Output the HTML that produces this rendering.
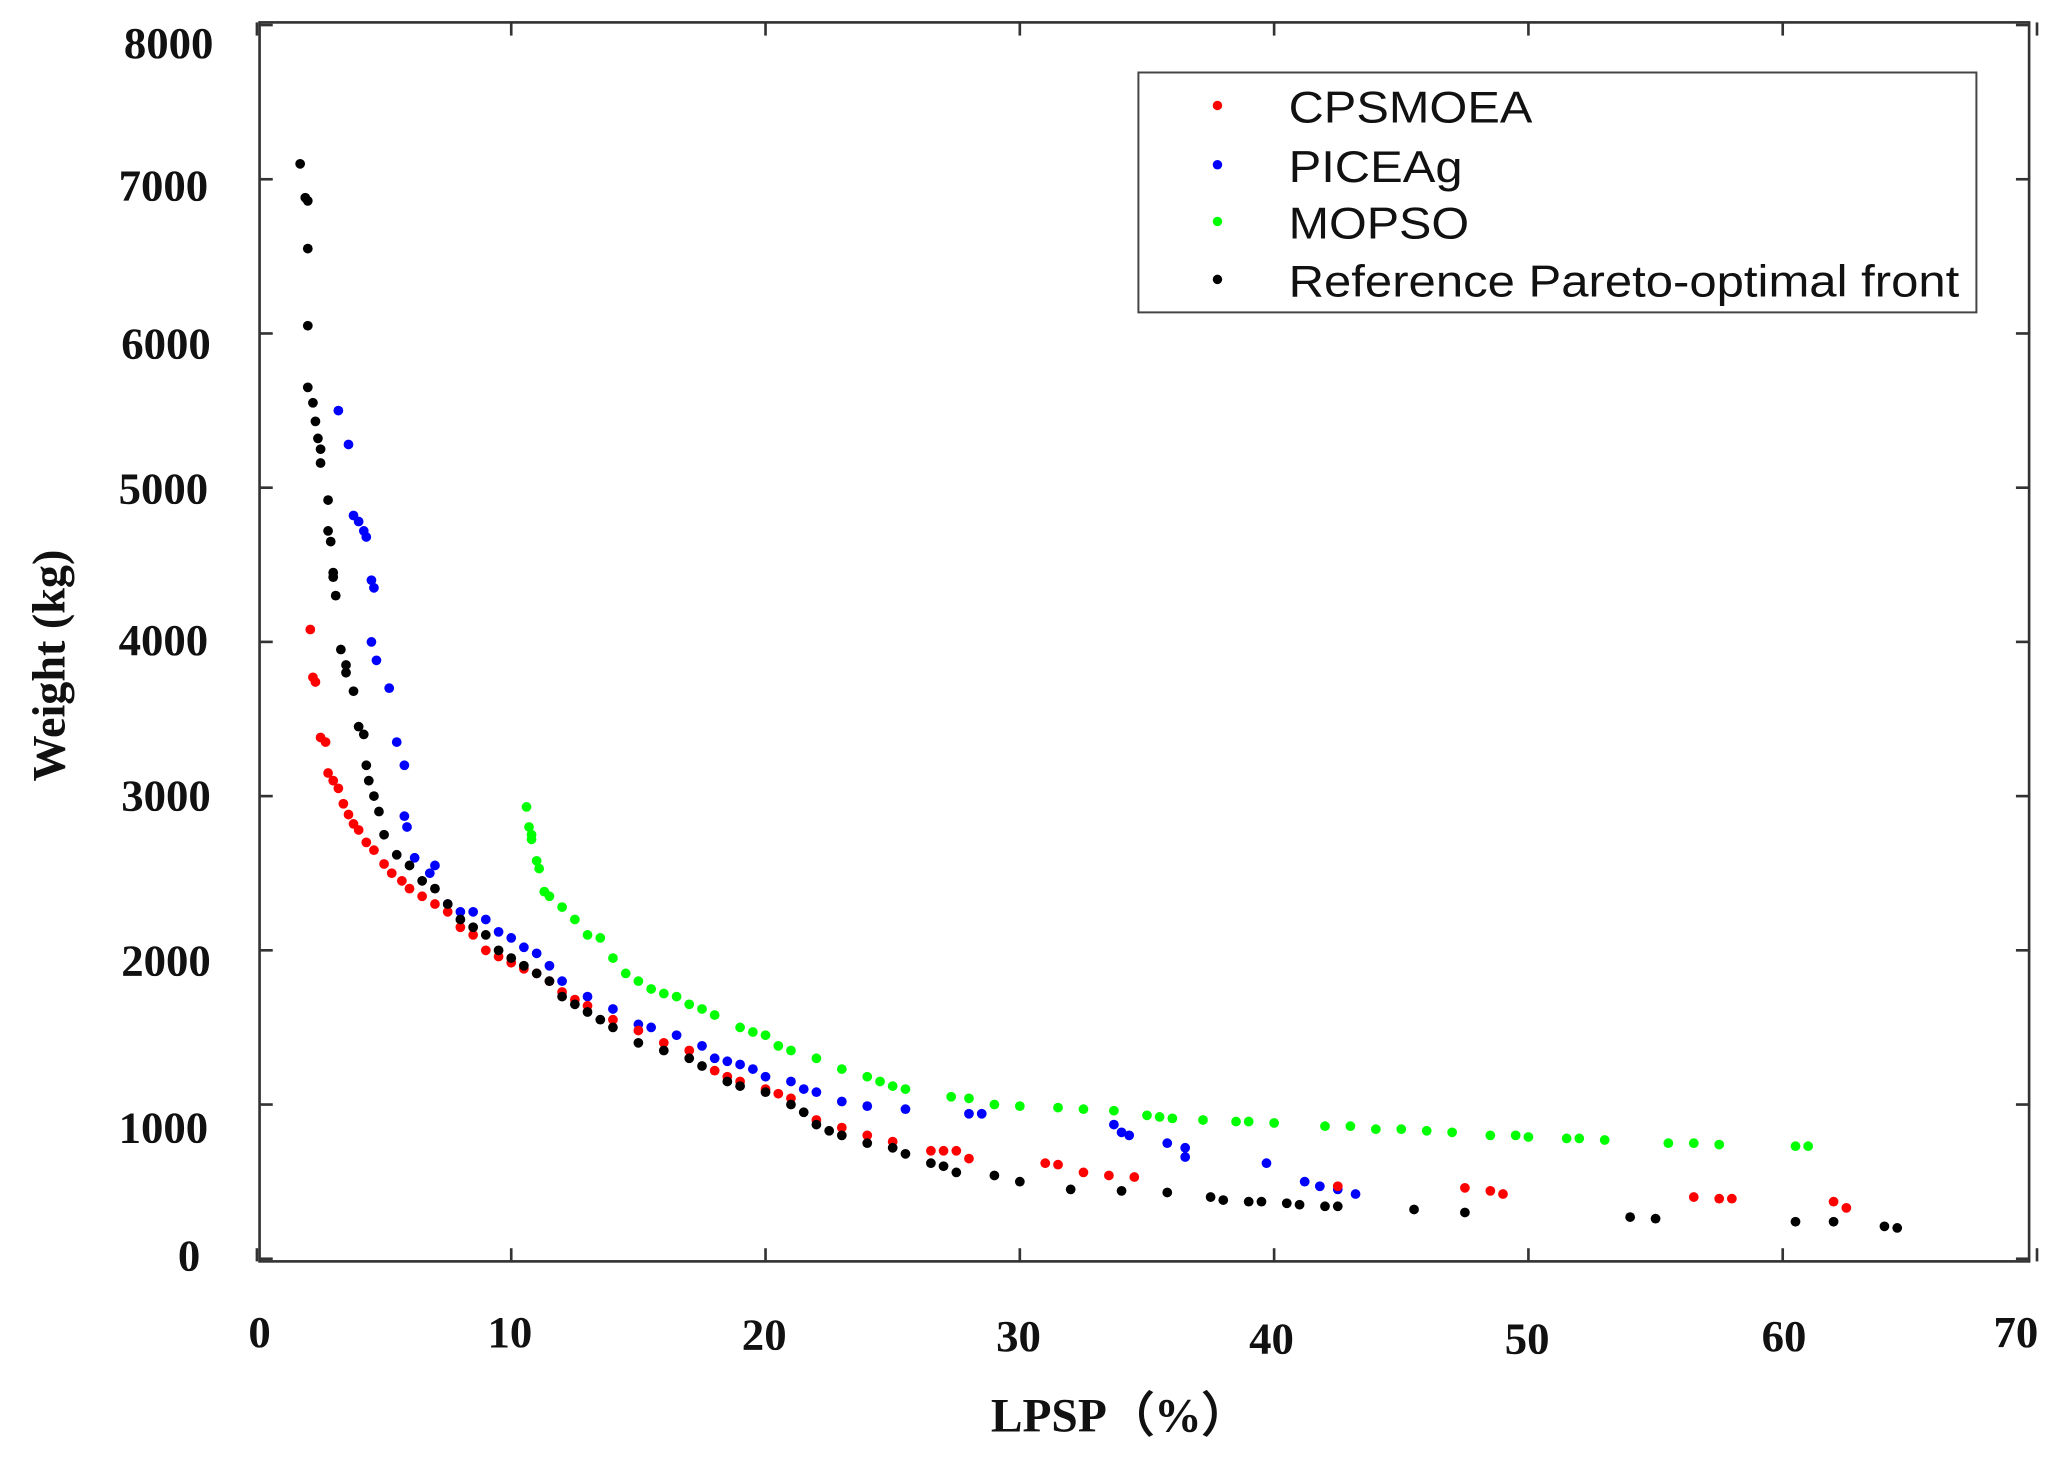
<!DOCTYPE html>
<html><head><meta charset="utf-8"><style>
html,body{margin:0;padding:0;background:#fff;}
svg{display:block;}
.t{font-family:"Liberation Serif",serif;font-weight:bold;font-size:34px;fill:#111;}
.l{font-family:"Liberation Sans",sans-serif;font-size:34px;fill:#111;}
</style></head><body>
<svg id="s" width="2066" height="1467" viewBox="0 0 1568 1113" preserveAspectRatio="none" xmlns="http://www.w3.org/2000/svg">
<rect x="0" y="0" width="1568" height="1113" fill="#fff"/>
<rect x="197" y="17" width="1343" height="940" fill="none" stroke="#333" stroke-width="2"/>
<g id="ticks" stroke="#333" stroke-width="2"></g>
<g class="t" text-anchor="end">
<text x="162" y="44">8000</text>
<text x="158" y="152">7000</text>
<text x="160" y="272">6000</text>
<text x="158" y="382">5000</text>
<text x="158" y="497">4000</text>
<text x="160" y="615">3000</text>
<text x="160" y="740">2000</text>
<text x="158" y="867">1000</text>
<text x="152" y="964">0</text>
</g>
<g class="t" text-anchor="middle">
<text x="197" y="1022">0</text>
<text x="387" y="1022">10</text>
<text x="580" y="1024">20</text>
<text x="773" y="1025">30</text>
<text x="965" y="1027">40</text>
<text x="1159" y="1027">50</text>
<text x="1354" y="1025">60</text>
<text x="1530" y="1022">70</text>
<text x="850" y="1086" style="font-size:36px">LPSP（%）</text>
<text transform="translate(49,505) rotate(-90)" style="font-size:35px">Weight (kg)</text>
</g>
<rect x="864" y="55" width="636" height="182" fill="#fff" stroke="#444" stroke-width="1.5"/>
<circle cx="924" cy="80" r="3.6" fill="#f00"/><text class="l" x="978" y="93" textLength="185" lengthAdjust="spacingAndGlyphs">CPSMOEA</text>
<circle cx="924" cy="125" r="3.6" fill="#00f"/><text class="l" x="978" y="138" textLength="132" lengthAdjust="spacingAndGlyphs">PICEAg</text>
<circle cx="924" cy="168" r="3.6" fill="#0f0"/><text class="l" x="978" y="181" textLength="137" lengthAdjust="spacingAndGlyphs">MOPSO</text>
<circle cx="924" cy="212" r="3.6" fill="#000"/><text class="l" x="978" y="225" textLength="509" lengthAdjust="spacingAndGlyphs">Reference Pareto-optimal front</text>
<g id="pts"></g>
</svg>
<script>
var X=function(v){return 195+v*19.3},Y=function(w){return 955-w*0.117};
var tk=document.getElementById('ticks'),h='';
for(var i=0;i<=7;i++){var x=X(i*10);h+='<line x1="'+x+'" y1="17" x2="'+x+'" y2="27"/><line x1="'+x+'" y1="947" x2="'+x+'" y2="957"/>';}
for(var j=0;j<=8;j++){var y=Y(j*1000);h+='<line x1="197" y1="'+y+'" x2="207" y2="'+y+'"/><line x1="1530" y1="'+y+'" x2="1540" y2="'+y+'"/>';}
tk.innerHTML=h;
var D={
"#0f0":[[10.6,2930],[10.7,2800],[10.8,2750],[10.8,2720],[11,2580],[11.1,2530],[11.3,2380],[11.5,2350],[12,2280],[12.5,2200],[13,2100],[13.5,2080],[14,1950],[14.5,1850],[15,1800],[15.5,1750],[16,1720],[16.5,1700],[17,1650],[17.5,1620],[18,1580],[19,1500],[19.5,1470],[20,1450],[20.5,1380],[21,1350],[22,1300],[23,1230],[24,1180],[24.5,1150],[25,1120],[25.5,1100],[27.3,1050],[28,1040],[29,1000],[30,990],[31.5,980],[32.5,970],[33.7,960],[35,930],[35.5,920],[36,910],[37.2,900],[38.5,890],[39,890],[40,880],[42,860],[43,860],[44,840],[45,840],[46,830],[47,820],[48.5,800],[49.5,800],[50,790],[51.5,780],[52,780],[53,770],[55.5,750],[56.5,750],[57.5,740],[60.5,730],[61,730]],
"#00f":[[3.2,5500],[3.6,5280],[3.8,4820],[4,4780],[4.2,4720],[4.3,4680],[4.5,4400],[4.6,4350],[4.5,4000],[4.7,3880],[5.2,3700],[5.5,3350],[5.8,3200],[5.8,2870],[5.9,2800],[6.2,2600],[6.8,2500],[7,2550],[7.5,2300],[8,2250],[8.5,2250],[9,2200],[9.5,2120],[10,2080],[10.5,2020],[11,1980],[11.5,1900],[12,1800],[13,1700],[14,1620],[15,1520],[15.5,1500],[16.5,1450],[17.5,1380],[18,1300],[18.5,1280],[19,1260],[19.5,1230],[20,1180],[21,1150],[21.5,1100],[22,1080],[23,1020],[24,990],[25.5,970],[28,940],[28.5,940],[33.7,870],[34,820],[34.3,800],[35.8,750],[36.5,720],[36.5,660],[39.7,620],[41.2,500],[41.8,470],[42.5,450],[43.2,420]],
"#f00":[[2.1,4080],[2.2,3770],[2.3,3740],[2.5,3380],[2.7,3350],[2.8,3150],[3,3100],[3.2,3050],[3.4,2950],[3.6,2880],[3.8,2820],[4,2780],[4.3,2700],[4.6,2650],[5,2560],[5.3,2500],[5.7,2450],[6,2400],[6.5,2350],[7,2300],[7.5,2250],[8,2150],[8.5,2100],[9,2000],[9.5,1960],[10,1920],[10.5,1880],[11,1850],[11.5,1800],[12,1730],[12.5,1680],[13,1640],[14,1550],[15,1480],[16,1400],[17,1350],[18,1220],[18.5,1180],[19,1150],[20,1100],[20.5,1070],[21,1040],[22,900],[23,850],[24,800],[25,760],[26.5,700],[27,700],[27.5,700],[28,650],[31,620],[31.5,610],[32.5,560],[33.5,540],[34.5,530],[42.5,470],[47.5,460],[48.5,440],[49,420],[56.5,400],[57.5,390],[58,390],[62,370],[62.5,330]],
"#000":[[1.7,7100],[1.9,6880],[2,6860],[2,6550],[2,6050],[2,5650],[2.2,5550],[2.3,5430],[2.4,5320],[2.5,5250],[2.5,5160],[2.8,4920],[2.8,4720],[2.9,4650],[3,4450],[3,4420],[3.1,4300],[3.3,3950],[3.5,3850],[3.5,3800],[3.8,3680],[4,3450],[4.2,3400],[4.3,3200],[4.4,3100],[4.6,3000],[4.8,2900],[5,2750],[5.5,2620],[6,2550],[6.5,2450],[7,2400],[7.5,2300],[8,2200],[8.5,2150],[9,2100],[9.5,2000],[10,1950],[10.5,1900],[11,1850],[11.5,1800],[12,1700],[12.5,1650],[13,1600],[13.5,1550],[14,1500],[15,1400],[16,1350],[17,1300],[17.5,1250],[18.5,1150],[19,1120],[20,1080],[21,1000],[21.5,950],[22,870],[22.5,830],[23,800],[24,750],[25,720],[25.5,680],[26.5,620],[27,600],[27.5,560],[29,540],[30,500],[32,450],[34,440],[35.8,430],[37.5,400],[38,380],[39,370],[39.5,370],[40.5,360],[41,350],[42,340],[42.5,340],[45.5,320],[47.5,300],[54,270],[55,260],[60.5,240],[62,240],[64,210],[64.5,200]]
};
var p='';
for(var c in D){D[c].forEach(function(d){p+='<circle cx="'+X(d[0]).toFixed(1)+'" cy="'+Y(d[1]).toFixed(1)+'" r="3.7" fill="'+c+'"/>';});}
document.getElementById('pts').innerHTML=p;
</script>
</body></html>
